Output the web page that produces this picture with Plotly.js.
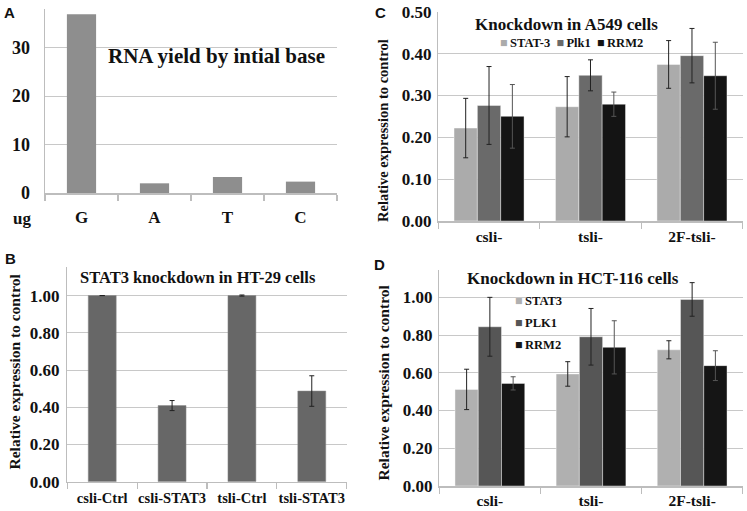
<!DOCTYPE html>
<html>
<head>
<meta charset="utf-8">
<script src="https://cdn.plot.ly/plotly-3.0.1.min.js"></script>
<style>html,body{margin:0;padding:0;background:#fff;}#chart{width:747px;height:511px;}</style>
</head>
<body>
<div id="chart"></div>
<script>
// ---------- data ----------
const A_categories = ['G', 'A', 'T', 'C'];
const A_yield = [36.9, 2.0, 3.3, 2.35];

const B_categories = ['csli-Ctrl', 'csli-STAT3', 'tsli-Ctrl', 'tsli-STAT3'];
const B_values = [1.00, 0.409, 1.00, 0.487];
const B_errors = [null, 0.027, 0.003, 0.082];

const C_categories = ['csli-', 'tsli-', '2F-tsli-'];
const C_series = ['STAT-3', 'Plk1', 'RRM2'];
const C_stat3 = [0.222, 0.273, 0.374];
const C_stat3_err = [0.071, 0.072, 0.057];
const C_plk1 = [0.276, 0.348, 0.395];
const C_plk1_err = [0.093, 0.037, 0.065];
const C_rrm2 = [0.250, 0.279, 0.347];
const C_rrm2_err = [0.076, 0.029, 0.080];

const D_categories = ['csli-', 'tsli-', '2F-tsli-'];
const D_series = ['STAT3', 'PLK1', 'RRM2'];
const D_stat3 = [0.512, 0.594, 0.722];
const D_stat3_err = [0.107, 0.065, 0.048];
const D_plk1 = [0.844, 0.791, 0.989];
const D_plk1_err = [0.156, 0.150, 0.089];
const D_rrm2 = [0.544, 0.735, 0.638];
const D_rrm2_err = [0.035, 0.141, 0.079];

// ---------- styles ----------
const W = 747, H = 511;
const SERIF = 'Liberation Serif';
const SANS = 'Liberation Sans';
const GRID = '#c8c8c8';
const AXIS = '#bdbdbd';
const C_colors = ['#ababab', '#6a6a6a', '#141414'];
const D_colors = ['#b0b0b0', '#565656', '#151515'];
const errColors = ['#222222', '#222222', '#555555'];

function px(x) { return x / W; }
function py(y) { return 1 - y / H; }

function errBar(arr, color) {
  return {type: 'data', array: arr, visible: true, color: color || '#222222', thickness: 1, width: 2.5};
}

const traces = [];
traces.push({type: 'bar', x: A_categories, y: A_yield, xaxis: 'x', yaxis: 'y', width: 0.4,
  marker: {color: '#8e8e8e'}, showlegend: false});
traces.push({type: 'bar', x: B_categories, y: B_values, xaxis: 'x2', yaxis: 'y2', width: 0.4,
  marker: {color: '#676767', line: {color: '#8a8a8a', width: 0.5}}, error_y: errBar(B_errors), showlegend: false});

const C_vals = [C_stat3, C_plk1, C_rrm2];
const C_errs = [C_stat3_err, C_plk1_err, C_rrm2_err];
C_series.forEach((name, i) => {
  traces.push({type: 'bar', name: name, x: C_categories, y: C_vals[i], xaxis: 'x3', yaxis: 'y3',
    marker: {color: C_colors[i], line: {color: 'rgba(255,255,255,0.7)', width: 0.6}},
    error_y: errBar(C_errs[i], errColors[i]), showlegend: false});
});
const D_vals = [D_stat3, D_plk1, D_rrm2];
const D_errs = [D_stat3_err, D_plk1_err, D_rrm2_err];
D_series.forEach((name, i) => {
  traces.push({type: 'bar', name: name, x: D_categories, y: D_vals[i], xaxis: 'x4', yaxis: 'y4',
    marker: {color: D_colors[i], line: {color: 'rgba(255,255,255,0.7)', width: 0.6}},
    error_y: errBar(D_errs[i], errColors[i]), showlegend: false});
});

function xAx(domain, anchor, size, standoff) {
  return {domain: domain, anchor: anchor, type: 'category', showline: true, linecolor: AXIS, linewidth: 1.5,
    ticks: 'outside', tickson: 'boundaries', ticklen: 6, tickcolor: AXIS, tickwidth: 1.2,
    showgrid: false, zeroline: false, ticklabelstandoff: standoff, tickangle: 0,
    tickfont: {family: SERIF, size: size, color: '#111', weight: 'bold'}, fixedrange: true};
}
function yAx(domain, anchor, range, dtick, fmt, size, standoff) {
  return {domain: domain, anchor: anchor, range: range, dtick: dtick, tick0: 0, tickformat: fmt,
    showline: true, linecolor: AXIS, linewidth: 1.5, ticks: '', showgrid: true, gridcolor: GRID, gridwidth: 1,
    zeroline: false, ticklabelstandoff: standoff,
    tickfont: {family: SERIF, size: size, color: '#111', weight: 'bold'}, fixedrange: true};
}

const annotations = [];
function ann(text, x, y, opts) {
  annotations.push(Object.assign({text: text, x: px(x), y: py(y), xref: 'paper', yref: 'paper',
    showarrow: false, xanchor: 'center', yanchor: 'middle',
    font: {family: SERIF, size: 16, color: '#111', weight: 'bold'}}, opts || {}));
}
// panel letters
ann('A', 9, 13, {font: {family: SANS, size: 15, color: '#111', weight: 'bold'}});
ann('B', 10, 258, {font: {family: SANS, size: 15, color: '#111', weight: 'bold'}});
ann('C', 380, 12.5, {font: {family: SANS, size: 15, color: '#111', weight: 'bold'}});
ann('D', 379, 264, {font: {family: SANS, size: 15, color: '#111', weight: 'bold'}});
// titles
ann('RNA yield by intial base', 216, 56, {font: {family: SERIF, size: 21, color: '#111', weight: 'bold'}});
ann('STAT3 knockdown in HT-29 cells', 198.5, 277, {font: {family: SERIF, size: 16.5, color: '#111', weight: 'bold'}});
ann('Knockdown in A549 cells', 566.7, 25, {font: {family: SERIF, size: 17, color: '#111', weight: 'bold'}});
ann('Knockdown in HCT-116 cells', 573, 278, {font: {family: SERIF, size: 17, color: '#111', weight: 'bold'}});
// unit label
ann('ug', 22, 218, {font: {family: SERIF, size: 17, color: '#111', weight: 'bold'}});
// y axis titles
const yTitle = 'Relative expression to control';
ann(yTitle, 14, 371.5, {textangle: -90, font: {family: SERIF, size: 15.5, color: '#111', weight: 'bold'}});
ann(yTitle, 383, 131, {textangle: -90, font: {family: SERIF, size: 14.5, color: '#111', weight: 'bold'}});
ann(yTitle, 383, 382.5, {textangle: -90, font: {family: SERIF, size: 15.5, color: '#111', weight: 'bold'}});
// legend C (horizontal)
const legC = C_series.map((n, i) => '<span style="color:' + C_colors[i] + '">\u25A0</span>\u2009' + n).join('  ');
ann(legC, 571.5, 43, {font: {family: SERIF, size: 12.5, color: '#111', weight: 'bold'}});
// legend D (vertical)
const legDy = [300.7, 322.7, 345.3];
D_series.forEach((n, i) => {
  ann('<span style="color:' + D_colors[i] + '">\u25A0</span>\u2009' + n, 513, legDy[i],
    {xanchor: 'left', font: {family: SERIF, size: 12.5, color: '#111', weight: 'bold'}});
});

const layout = {
  width: W, height: H, margin: {l: 0, r: 0, t: 0, b: 0},
  paper_bgcolor: '#ffffff', plot_bgcolor: '#ffffff',
  barmode: 'group', bargap: 0.31, bargroupgap: 0,
  showlegend: false,
  xaxis: xAx([px(45), px(337)], 'y', 17, 8),
  yaxis: yAx([py(193), py(9)], 'x', [0, 38], 10, 'd', 18, 10),
  xaxis2: xAx([px(67.3), px(346.7)], 'y2', 14.5, 2),
  yaxis2: yAx([py(481.7), py(266.7)], 'x2', [0, 1.155], 0.2, '.2f', 17, 3),
  xaxis3: xAx([px(438.3), px(742.7)], 'y3', 15.5, 1),
  yaxis3: yAx([py(221), py(11.7)], 'x3', [0, 0.5], 0.1, '.2f', 17, 2),
  xaxis4: xAx([px(439.3), px(742.7)], 'y4', 15.5, 0),
  yaxis4: yAx([py(486), py(270)], 'x4', [0, 1.145], 0.2, '.2f', 17, 2),
  annotations: annotations
};

Plotly.newPlot('chart', traces, layout, {displayModeBar: false, staticPlot: true});
</script>
</body>
</html>
